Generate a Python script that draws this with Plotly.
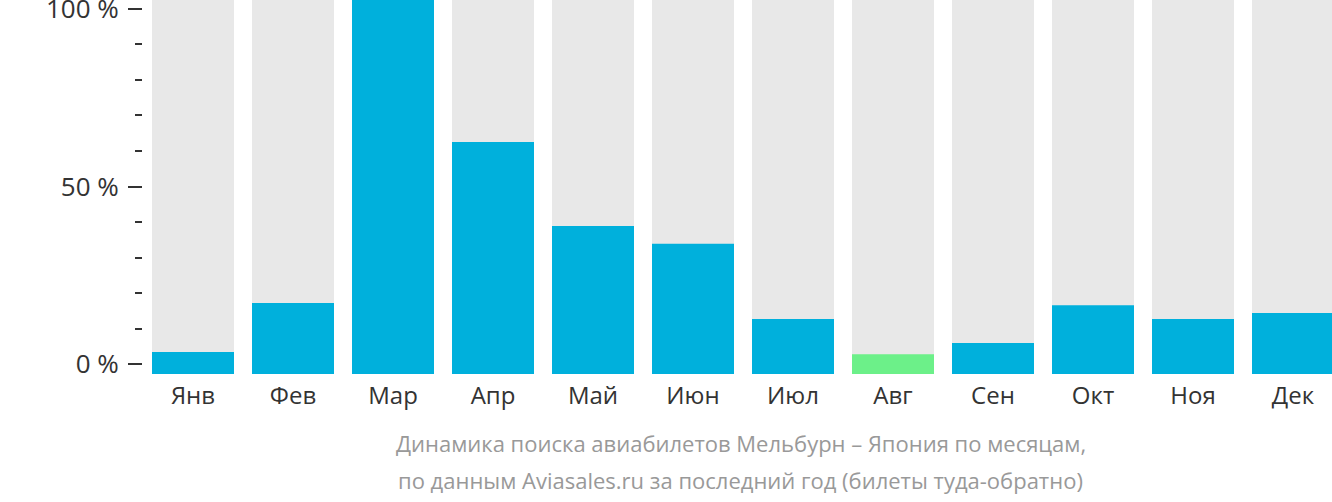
import plotly.graph_objects as go

months = ["Янв", "Фев", "Мар", "Апр", "Май", "Июн", "Июл", "Авг", "Сен", "Окт", "Ноя", "Дек"]
values = [5.9, 19.0, 100, 62.0, 39.6, 34.8, 14.7, 5.3, 8.3, 18.4, 14.7, 16.3]
highlight = "Авг"
full = [100] * len(months)
tick_vals = [0, 50, 100]
tick_text = ["0 %", "50 %", "100 %"]
caption_lines = [
    "Динамика поиска авиабилетов Мельбурн – Япония по месяцам,",
    "по данным Aviasales.ru за последний год (билеты туда-обратно)",
]

BLUE = "#00b0dc"
GREEN = "#6cf089"
GREY = "#e8e8e8"
FONT = "Open Sans"

colors = [GREEN if m == highlight else BLUE for m in months]
xs = list(range(len(months)))

fig = go.Figure()
fig.add_bar(x=xs, y=full, marker=dict(color=GREY, line=dict(width=0)), width=0.82,
            hoverinfo="skip", showlegend=False)
fig.add_bar(x=xs, y=values, marker=dict(color=colors, line=dict(width=0)), width=0.82,
            hoverinfo="skip", showlegend=False)
fig.add_scatter(x=[0], y=[None], yaxis="y2", mode="markers", showlegend=False, hoverinfo="skip")

fig.update_layout(
    width=1332, height=502,
    margin=dict(l=143, r=0, t=0, b=128, autoexpand=False),
    paper_bgcolor="white", plot_bgcolor="white",
    barmode="overlay",
    font=dict(family=FONT, color="#333333"),
    xaxis=dict(
        range=[-0.5, 11.39], tickvals=xs, ticktext=months, showgrid=False, zeroline=False,
        showline=False, ticks="", tickfont=dict(size=24, color="#333333", family=FONT),
        ticklabelstandoff=5, automargin=False,
    ),
    yaxis=dict(range=[0, 100], visible=False, fixedrange=True, automargin=False),
    yaxis2=dict(
        overlaying="y", side="left", range=[-2.73, 102.47], tickvals=tick_vals,
        ticktext=tick_text, showgrid=False, zeroline=False, showline=False,
        ticks="outside", ticklen=14, tickwidth=2, tickcolor="#333333",
        tickfont=dict(size=26, color="#333333", family=FONT), ticklabelstandoff=4,
        ticklabeloverflow="allow", automargin=False,
        minor=dict(tickvals=[10, 20, 30, 40, 60, 70, 80, 90], ticks="outside", ticklen=7,
                   tickwidth=2, tickcolor="#333333", showgrid=False),
    ),
)

caption_y = [443, 480]
for line, py in zip(caption_lines, caption_y):
    fig.add_annotation(
        text=line, xref="paper", yref="paper",
        x=(741 - 143) / 1189, y=-(py - 374) / 374,
        xanchor="center", yanchor="middle", showarrow=False,
        font=dict(size=22, color="#999999", family=FONT),
    )

fig.write_html("out.html")
